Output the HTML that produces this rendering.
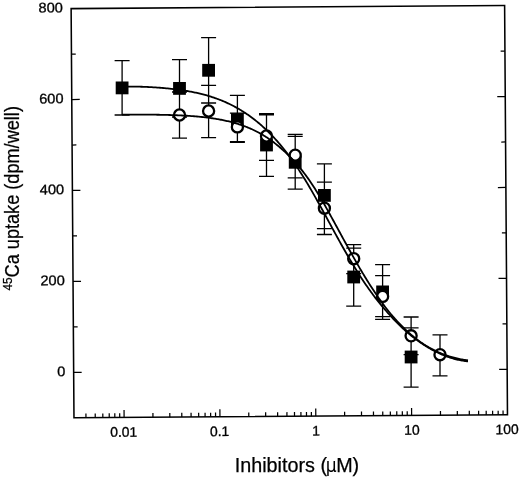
<!DOCTYPE html>
<html><head><meta charset="utf-8"><title>Ca uptake vs inhibitors</title>
<style>html,body{margin:0;padding:0;background:#fff}svg{display:block}text{font-family:"Liberation Sans",sans-serif;fill:#000}.b{stroke:#000;stroke-width:0.32px}.c{stroke:#000;stroke-width:0.25px}</style>
</head><body>
<svg width="520" height="477" viewBox="0 0 520 477">
<rect width="520" height="477" fill="#fff"/>
<g transform="rotate(-0.4 289.3 211.7)">
<rect x="72.55" y="7.1" width="433.5" height="409.2" fill="none" stroke="#000" stroke-width="1.55"/>
<path d="M72.55 370.83h8.0M506.05 370.83h-8.0M72.55 325.37h4.3M506.05 325.37h-4.3M72.55 279.90h8.0M506.05 279.90h-8.0M72.55 234.43h4.3M506.05 234.43h-4.3M72.55 188.97h8.0M506.05 188.97h-8.0M72.55 143.50h4.3M506.05 143.50h-4.3M72.55 98.03h8.0M506.05 98.03h-8.0M72.55 52.57h4.3M506.05 52.57h-4.3M84.52 416.3v-4.2M93.81 416.3v-4.2M101.40 416.3v-4.2M107.82 416.3v-4.2M113.38 416.3v-4.2M118.28 416.3v-4.2M122.67 416.3v-7.5M151.52 416.3v-4.2M168.40 416.3v-4.2M180.37 416.3v-4.2M189.66 416.3v-4.2M197.25 416.3v-4.2M203.67 416.3v-4.2M209.22 416.3v-4.2M214.13 416.3v-4.2M218.51 416.3v-7.5M247.36 416.3v-4.2M264.24 416.3v-4.2M276.22 416.3v-4.2M285.51 416.3v-4.2M293.09 416.3v-4.2M299.51 416.3v-4.2M305.07 416.3v-4.2M309.97 416.3v-4.2M314.36 416.3v-7.5M343.21 416.3v-4.2M360.09 416.3v-4.2M372.06 416.3v-4.2M381.35 416.3v-4.2M388.94 416.3v-4.2M395.36 416.3v-4.2M400.92 416.3v-4.2M405.82 416.3v-4.2M410.20 416.3v-7.5M439.06 416.3v-4.2M455.93 416.3v-4.2M467.91 416.3v-4.2M477.20 416.3v-4.2M484.79 416.3v-4.2M491.20 416.3v-4.2M496.76 416.3v-4.2M501.66 416.3v-4.2" stroke="#000" stroke-width="1.25" fill="none"/>
<text transform="translate(64.25 374.53) scale(1.04 1)" font-size="14.0" text-anchor="end" class="b">0</text>
<text transform="translate(64.25 283.60) scale(1.04 1)" font-size="14.0" text-anchor="end" class="b">200</text>
<text transform="translate(64.25 192.67) scale(1.04 1)" font-size="14.0" text-anchor="end" class="b">400</text>
<text transform="translate(64.25 101.73) scale(1.04 1)" font-size="14.0" text-anchor="end" class="b">600</text>
<text transform="translate(64.25 10.80) scale(1.04 1)" font-size="14.0" text-anchor="end" class="b">800</text>
<text x="122.17" y="435.60" font-size="13.9" text-anchor="middle" class="b">0.01</text>
<text x="218.01" y="435.60" font-size="13.9" text-anchor="middle" class="b">0.1</text>
<text x="314.66" y="435.60" font-size="13.9" text-anchor="middle" class="b">1</text>
<text x="410.50" y="435.60" font-size="13.9" text-anchor="middle" class="b">10</text>
<text x="505.55" y="435.60" font-size="13.9" text-anchor="middle" class="b">100</text>
</g>
<text x="297.0" y="472.4" font-size="19.75" text-anchor="middle" class="c">Inhibitors (<tspan font-family="'DejaVu Sans Condensed','DejaVu Sans',sans-serif" font-size="19" dx="-1.3" style="stroke-width:0">μ</tspan><tspan dx="-0.4">M)</tspan></text>
<text transform="translate(18.7 198.3) rotate(-90) scale(0.936 1)" font-size="19.4" text-anchor="middle" class="c"><tspan font-size="12.6" dy="-6.8">45</tspan><tspan dy="6.8">Ca uptake (dpm/well)</tspan></text>
<path d="M122.1 60.7V115M114.6 60.7h15.0M114.6 115h15.0M179.5 59.7V117M172.0 59.7h15.0M172.0 117h15.0M208.6 37.6V103M201.1 37.6h15.0M201.1 103h15.0M237.4 95.4V142.3M229.9 95.4h15.0M229.9 142.3h15.0M266.5 114.8V176.3M259.0 114.8h15.0M259.0 176.3h15.0M295.2 136.3V189.1M287.7 136.3h15.0M287.7 189.1h15.0M324.4 163.9V228.7M316.9 163.9h15.0M316.9 228.7h15.0M353.7 248.2V306.1M346.2 248.2h15.0M346.2 306.1h15.0M382.6 264.6V319.3M375.1 264.6h15.0M375.1 319.3h15.0M411.1 327.9V387.2M403.6 327.9h15.0M403.6 387.2h15.0M179.5 92V138.2M172.0 92h15.0M172.0 138.2h15.0M208.6 85.4V137.7M201.1 85.4h15.0M201.1 137.7h15.0M237.4 113.2V141.7M229.9 113.2h15.0M229.9 141.7h15.0M266.5 113.6V160.4M259.0 113.6h15.0M259.0 160.4h15.0M295.2 134.3V177.9M287.7 134.3h15.0M287.7 177.9h15.0M324.4 182.2V234.5M316.9 182.2h15.0M316.9 234.5h15.0M353.7 244.6V273.7M346.2 244.6h15.0M346.2 273.7h15.0M382.6 275.6V316.7M375.1 275.6h15.0M375.1 316.7h15.0M411.1 317V354.6M403.6 317h15.0M403.6 354.6h15.0M440 334.9V375.8M432.5 334.9h15.0M432.5 375.8h15.0" stroke="#000" stroke-width="1.3" fill="none"/>
<rect x="115.70" y="81.50" width="12.8" height="12.8" fill="#000"/>
<rect x="173.10" y="82.00" width="12.8" height="12.8" fill="#000"/>
<rect x="202.20" y="63.90" width="12.8" height="12.8" fill="#000"/>
<rect x="231.00" y="113.10" width="12.8" height="12.8" fill="#000"/>
<rect x="260.10" y="138.60" width="12.8" height="12.8" fill="#000"/>
<rect x="288.80" y="155.90" width="12.8" height="12.8" fill="#000"/>
<rect x="318.00" y="189.00" width="12.8" height="12.8" fill="#000"/>
<rect x="347.30" y="270.60" width="12.8" height="12.8" fill="#000"/>
<rect x="376.20" y="285.50" width="12.8" height="12.8" fill="#000"/>
<rect x="404.70" y="350.60" width="12.8" height="12.8" fill="#000"/>
<circle cx="179.5" cy="115" r="5.55" fill="#fff" stroke="#000" stroke-width="2.3"/>
<circle cx="208.6" cy="111" r="5.55" fill="#fff" stroke="#000" stroke-width="2.3"/>
<circle cx="237.4" cy="126.9" r="5.55" fill="#fff" stroke="#000" stroke-width="2.3"/>
<circle cx="266.5" cy="136" r="5.55" fill="#fff" stroke="#000" stroke-width="2.3"/>
<circle cx="295.2" cy="155.2" r="5.55" fill="#fff" stroke="#000" stroke-width="2.3"/>
<circle cx="324.4" cy="208.2" r="5.55" fill="#fff" stroke="#000" stroke-width="2.3"/>
<circle cx="353.7" cy="258.7" r="5.55" fill="#fff" stroke="#000" stroke-width="2.3"/>
<circle cx="382.6" cy="296.4" r="5.55" fill="#fff" stroke="#000" stroke-width="2.3"/>
<circle cx="411.1" cy="335.8" r="5.55" fill="#fff" stroke="#000" stroke-width="2.3"/>
<circle cx="440" cy="354.7" r="5.55" fill="#fff" stroke="#000" stroke-width="2.3"/>
<polyline points="122.0,86.59 123.0,86.58 124.0,86.57 125.0,86.56 126.0,86.56 127.0,86.55 128.0,86.55 129.0,86.55 130.0,86.55 131.0,86.56 132.0,86.57 133.0,86.58 134.0,86.59 135.0,86.60 136.0,86.62 137.0,86.64 138.0,86.66 139.0,86.68 140.0,86.71 141.0,86.74 142.0,86.77 143.0,86.81 144.0,86.84 145.0,86.88 146.0,86.92 147.0,86.96 148.0,87.01 149.0,87.06 150.0,87.11 151.0,87.16 152.0,87.22 153.0,87.28 154.0,87.34 155.0,87.40 156.0,87.47 157.0,87.54 158.0,87.61 159.0,87.68 160.0,87.76 161.0,87.84 162.0,87.92 163.0,88.01 164.0,88.09 165.0,88.18 166.0,88.28 167.0,88.37 168.0,88.47 169.0,88.58 170.0,88.68 171.0,88.79 172.0,88.90 173.0,89.02 174.0,89.14 175.0,89.26 176.0,89.38 177.0,89.51 178.0,89.64 179.0,89.78 180.0,89.92 181.0,90.06 182.0,90.21 183.0,90.36 184.0,90.52 185.0,90.68 186.0,90.84 187.0,91.01 188.0,91.18 189.0,91.36 190.0,91.54 191.0,91.73 192.0,91.92 193.0,92.12 194.0,92.32 195.0,92.53 196.0,92.74 197.0,92.96 198.0,93.19 199.0,93.42 200.0,93.65 201.0,93.90 202.0,94.15 203.0,94.40 204.0,94.66 205.0,94.93 206.0,95.21 207.0,95.49 208.0,95.78 209.0,96.08 210.0,96.38 211.0,96.70 212.0,97.02 213.0,97.35 214.0,97.68 215.0,98.03 216.0,98.38 217.0,98.74 218.0,99.11 219.0,99.49 220.0,99.88 221.0,100.27 222.0,100.68 223.0,101.09 224.0,101.52 225.0,101.95 226.0,102.40 227.0,102.85 228.0,103.31 229.0,103.78 230.0,104.27 231.0,104.76 232.0,105.26 233.0,105.78 234.0,106.30 235.0,106.84 236.0,107.39 237.0,107.94 238.0,108.51 239.0,109.09 240.0,109.69 241.0,110.29 242.0,110.91 243.0,111.53 244.0,112.17 245.0,112.82 246.0,113.49 247.0,114.16 248.0,114.85 249.0,115.56 250.0,116.27 251.0,117.00 252.0,117.74 253.0,118.50 254.0,119.27 255.0,120.05 256.0,120.84 257.0,121.65 258.0,122.48 259.0,123.31 260.0,124.17 261.0,125.03 262.0,125.91 263.0,126.81 264.0,127.72 265.0,128.64 266.0,129.58 267.0,130.54 268.0,131.51 269.0,132.49 270.0,133.50 271.0,134.51 272.0,135.55 273.0,136.60 274.0,137.66 275.0,138.75 276.0,139.85 277.0,140.96 278.0,142.10 279.0,143.25 280.0,144.42 281.0,145.61 282.0,146.82 283.0,148.04 284.0,149.28 285.0,150.54 286.0,151.82 287.0,153.12 288.0,154.44 289.0,155.77 290.0,157.12 291.0,158.49 292.0,159.88 293.0,161.29 294.0,162.72 295.0,164.16 296.0,165.62 297.0,167.10 298.0,168.60 299.0,170.12 300.0,171.66 301.0,173.21 302.0,174.78 303.0,176.37 304.0,177.97 305.0,179.59 306.0,181.23 307.0,182.89 308.0,184.56 309.0,186.24 310.0,187.94 311.0,189.66 312.0,191.38 313.0,193.12 314.0,194.87 315.0,196.63 316.0,198.41 317.0,200.19 318.0,201.98 319.0,203.78 320.0,205.58 321.0,207.40 322.0,209.22 323.0,211.04 324.0,212.87 325.0,214.71 326.0,216.54 327.0,218.38 328.0,220.22 329.0,222.06 330.0,223.91 331.0,225.75 332.0,227.59 333.0,229.42 334.0,231.26 335.0,233.09 336.0,234.91 337.0,236.73 338.0,238.55 339.0,240.35 340.0,242.15 341.0,243.94 342.0,245.73 343.0,247.50 344.0,249.26 345.0,251.02 346.0,252.76 347.0,254.49 348.0,256.21 349.0,257.92 350.0,259.62 351.0,261.31 352.0,262.98 353.0,264.64 354.0,266.29 355.0,267.92 356.0,269.54 357.0,271.14 358.0,272.73 359.0,274.31 360.0,275.87 361.0,277.41 362.0,278.94 363.0,280.45 364.0,281.95 365.0,283.43 366.0,284.89 367.0,286.34 368.0,287.77 369.0,289.19 370.0,290.59 371.0,291.97 372.0,293.34 373.0,294.69 374.0,296.02 375.0,297.34 376.0,298.64 377.0,299.92 378.0,301.19 379.0,302.44 380.0,303.68 381.0,304.90 382.0,306.10 383.0,307.29 384.0,308.47 385.0,309.62 386.0,310.77 387.0,311.91 388.0,313.04 389.0,314.15 390.0,315.26 391.0,316.36 392.0,317.44 393.0,318.52 394.0,319.58 395.0,320.63 396.0,321.67 397.0,322.69 398.0,323.70 399.0,324.70 400.0,325.68 401.0,326.64 402.0,327.59 403.0,328.52 404.0,329.44 405.0,330.33 406.0,331.21 407.0,332.08 408.0,332.94 409.0,333.78 410.0,334.61 411.0,335.43 412.0,336.23 413.0,337.02 414.0,337.80 415.0,338.57 416.0,339.33 417.0,340.07 418.0,340.80 419.0,341.52 420.0,342.22 421.0,342.91 422.0,343.59 423.0,344.26 424.0,344.92 425.0,345.56 426.0,346.19 427.0,346.81 428.0,347.41 429.0,348.01 430.0,348.59 431.0,349.16 432.0,349.71 433.0,350.26 434.0,350.79 435.0,351.31 436.0,351.81 437.0,352.31 438.0,352.79 439.0,353.26 440.0,353.71 441.0,354.16 442.0,354.59 443.0,355.01 444.0,355.41 445.0,355.81 446.0,356.19 447.0,356.56 448.0,356.91 449.0,357.26 450.0,357.59 451.0,357.91 452.0,358.21 453.0,358.50 454.0,358.78 455.0,359.05 456.0,359.31 457.0,359.55 458.0,359.78 459.0,359.99 460.0,360.19 461.0,360.38 462.0,360.56 463.0,360.72 464.0,360.87 465.0,361.01 466.0,361.13 467.0,361.24 468.0,361.33" fill="none" stroke="#000" stroke-width="1.8" stroke-linejoin="round"/>
<polyline points="122.0,114.58 123.0,114.58 124.0,114.58 125.0,114.58 126.0,114.58 127.0,114.57 128.0,114.57 129.0,114.57 130.0,114.57 131.0,114.57 132.0,114.57 133.0,114.57 134.0,114.57 135.0,114.58 136.0,114.58 137.0,114.58 138.0,114.58 139.0,114.58 140.0,114.59 141.0,114.59 142.0,114.60 143.0,114.60 144.0,114.61 145.0,114.61 146.0,114.62 147.0,114.62 148.0,114.63 149.0,114.64 150.0,114.65 151.0,114.66 152.0,114.67 153.0,114.68 154.0,114.69 155.0,114.70 156.0,114.72 157.0,114.73 158.0,114.75 159.0,114.76 160.0,114.78 161.0,114.80 162.0,114.82 163.0,114.84 164.0,114.86 165.0,114.88 166.0,114.91 167.0,114.93 168.0,114.96 169.0,114.99 170.0,115.02 171.0,115.05 172.0,115.08 173.0,115.11 174.0,115.15 175.0,115.19 176.0,115.22 177.0,115.26 178.0,115.31 179.0,115.35 180.0,115.39 181.0,115.44 182.0,115.49 183.0,115.54 184.0,115.60 185.0,115.65 186.0,115.71 187.0,115.77 188.0,115.83 189.0,115.90 190.0,115.97 191.0,116.04 192.0,116.11 193.0,116.18 194.0,116.26 195.0,116.34 196.0,116.43 197.0,116.51 198.0,116.60 199.0,116.70 200.0,116.79 201.0,116.89 202.0,117.00 203.0,117.10 204.0,117.21 205.0,117.33 206.0,117.44 207.0,117.57 208.0,117.69 209.0,117.82 210.0,117.96 211.0,118.09 212.0,118.24 213.0,118.39 214.0,118.54 215.0,118.69 216.0,118.86 217.0,119.02 218.0,119.20 219.0,119.37 220.0,119.56 221.0,119.75 222.0,119.94 223.0,120.14 224.0,120.35 225.0,120.56 226.0,120.78 227.0,121.01 228.0,121.24 229.0,121.48 230.0,121.72 231.0,121.98 232.0,122.24 233.0,122.51 234.0,122.78 235.0,123.07 236.0,123.36 237.0,123.66 238.0,123.97 239.0,124.28 240.0,124.61 241.0,124.95 242.0,125.29 243.0,125.64 244.0,126.01 245.0,126.38 246.0,126.77 247.0,127.16 248.0,127.57 249.0,127.98 250.0,128.41 251.0,128.85 252.0,129.30 253.0,129.76 254.0,130.23 255.0,130.72 256.0,131.22 257.0,131.73 258.0,132.25 259.0,132.79 260.0,133.34 261.0,133.90 262.0,134.48 263.0,135.08 264.0,135.68 265.0,136.31 266.0,136.94 267.0,137.60 268.0,138.26 269.0,138.95 270.0,139.65 271.0,140.36 272.0,141.09 273.0,141.83 274.0,142.59 275.0,143.37 276.0,144.16 277.0,144.96 278.0,145.78 279.0,146.62 280.0,147.47 281.0,148.34 282.0,149.22 283.0,150.12 284.0,151.03 285.0,151.96 286.0,152.90 287.0,153.86 288.0,154.84 289.0,155.83 290.0,156.83 291.0,157.85 292.0,158.89 293.0,159.95 294.0,161.02 295.0,162.12 296.0,163.23 297.0,164.37 298.0,165.52 299.0,166.70 300.0,167.90 301.0,169.12 302.0,170.37 303.0,171.64 304.0,172.93 305.0,174.25 306.0,175.59 307.0,176.96 308.0,178.36 309.0,179.78 310.0,181.23 311.0,182.70 312.0,184.20 313.0,185.72 314.0,187.26 315.0,188.83 316.0,190.42 317.0,192.03 318.0,193.66 319.0,195.31 320.0,196.98 321.0,198.67 322.0,200.37 323.0,202.09 324.0,203.82 325.0,205.57 326.0,207.33 327.0,209.11 328.0,210.89 329.0,212.69 330.0,214.49 331.0,216.31 332.0,218.12 333.0,219.95 334.0,221.78 335.0,223.61 336.0,225.45 337.0,227.29 338.0,229.13 339.0,230.97 340.0,232.80 341.0,234.64 342.0,236.48 343.0,238.31 344.0,240.14 345.0,241.97 346.0,243.79 347.0,245.61 348.0,247.42 349.0,249.23 350.0,251.03 351.0,252.83 352.0,254.61 353.0,256.39 354.0,258.16 355.0,259.92 356.0,261.67 357.0,263.42 358.0,265.15 359.0,266.87 360.0,268.58 361.0,270.27 362.0,271.96 363.0,273.63 364.0,275.28 365.0,276.93 366.0,278.56 367.0,280.18 368.0,281.78 369.0,283.37 370.0,284.94 371.0,286.50 372.0,288.04 373.0,289.57 374.0,291.09 375.0,292.58 376.0,294.06 377.0,295.53 378.0,296.98 379.0,298.41 380.0,299.83 381.0,301.23 382.0,302.62 383.0,303.99 384.0,305.34 385.0,306.68 386.0,307.99 387.0,309.28 388.0,310.55 389.0,311.79 390.0,313.02 391.0,314.22 392.0,315.40 393.0,316.56 394.0,317.70 395.0,318.82 396.0,319.93 397.0,321.01 398.0,322.08 399.0,323.13 400.0,324.17 401.0,325.19 402.0,326.20 403.0,327.20 404.0,328.18 405.0,329.15 406.0,330.10 407.0,331.04 408.0,331.96 409.0,332.87 410.0,333.75 411.0,334.62 412.0,335.47 413.0,336.30 414.0,337.12 415.0,337.92 416.0,338.70 417.0,339.47 418.0,340.22 419.0,340.96 420.0,341.67 421.0,342.38 422.0,343.06 423.0,343.74 424.0,344.39 425.0,345.03 426.0,345.66 427.0,346.27 428.0,346.87 429.0,347.45 430.0,348.02 431.0,348.57 432.0,349.11 433.0,349.64 434.0,350.15 435.0,350.65 436.0,351.13 437.0,351.60 438.0,352.06 439.0,352.51 440.0,352.94 441.0,353.36 442.0,353.77 443.0,354.16 444.0,354.54 445.0,354.92 446.0,355.27 447.0,355.62 448.0,355.95 449.0,356.28 450.0,356.59 451.0,356.89 452.0,357.18 453.0,357.46 454.0,357.72 455.0,357.98 456.0,358.22 457.0,358.45 458.0,358.68 459.0,358.89 460.0,359.09 461.0,359.28 462.0,359.46 463.0,359.63 464.0,359.79 465.0,359.94 466.0,360.07 467.0,360.20 468.0,360.32" fill="none" stroke="#000" stroke-width="1.8" stroke-linejoin="round"/>
</svg>
</body></html>
